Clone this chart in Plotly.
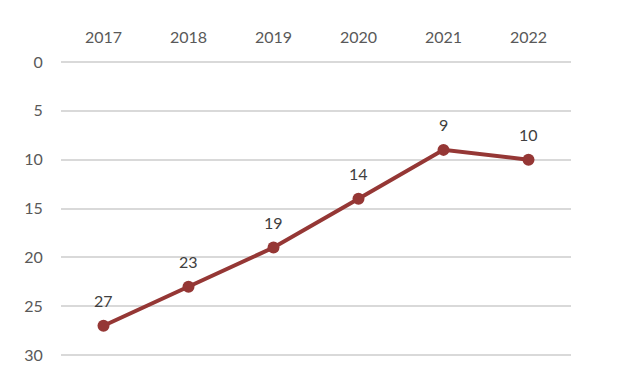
import plotly.graph_objects as go

years = ["2017", "2018", "2019", "2020", "2021", "2022"]
ranks = [27, 23, 19, 14, 9, 10]
y_ticks = [0, 5, 10, 15, 20, 25, 30]

line_color = "#953735"
text_color = "#595959"
font_family = "Lato, sans-serif"

fig = go.Figure()
fig.add_trace(go.Scatter(
    x=list(range(len(years))), y=ranks, mode="lines+markers",
    line=dict(color=line_color, width=4),
    marker=dict(color=line_color, size=12),
    cliponaxis=False,
    hoverinfo="skip",
))

for i, yv in enumerate(ranks):
    fig.add_annotation(x=i, y=yv, xref="x", yref="y", text=str(yv), showarrow=False,
                       yshift=25, font=dict(size=16, color="#404040", family=font_family))

fig.update_layout(
    width=636, height=369,
    margin=dict(l=53, r=73, t=52, b=20, autoexpand=False),
    paper_bgcolor="white", plot_bgcolor="white",
    showlegend=False,
    font=dict(family=font_family, size=16, color=text_color),
    xaxis=dict(
        side="top", range=[-0.5, 5.5],
        tickvals=list(range(len(years))), ticktext=years,
        showgrid=False, showline=False, zeroline=False, automargin=False,
        ticks="outside", ticklen=10, tickcolor="rgba(0,0,0,0)",
        tickfont=dict(size=16, color=text_color),
    ),
    yaxis=dict(
        range=[30.2, -0.2], tickvals=y_ticks,
        showgrid=True, gridcolor="#d9d9d9", gridwidth=1.5,
        zeroline=False, showline=False, automargin=False,
        ticks="outside", ticklen=14, tickcolor="rgba(0,0,0,0)",
        tickfont=dict(size=16, color=text_color),
    ),
)

fig.write_html("out.html")
